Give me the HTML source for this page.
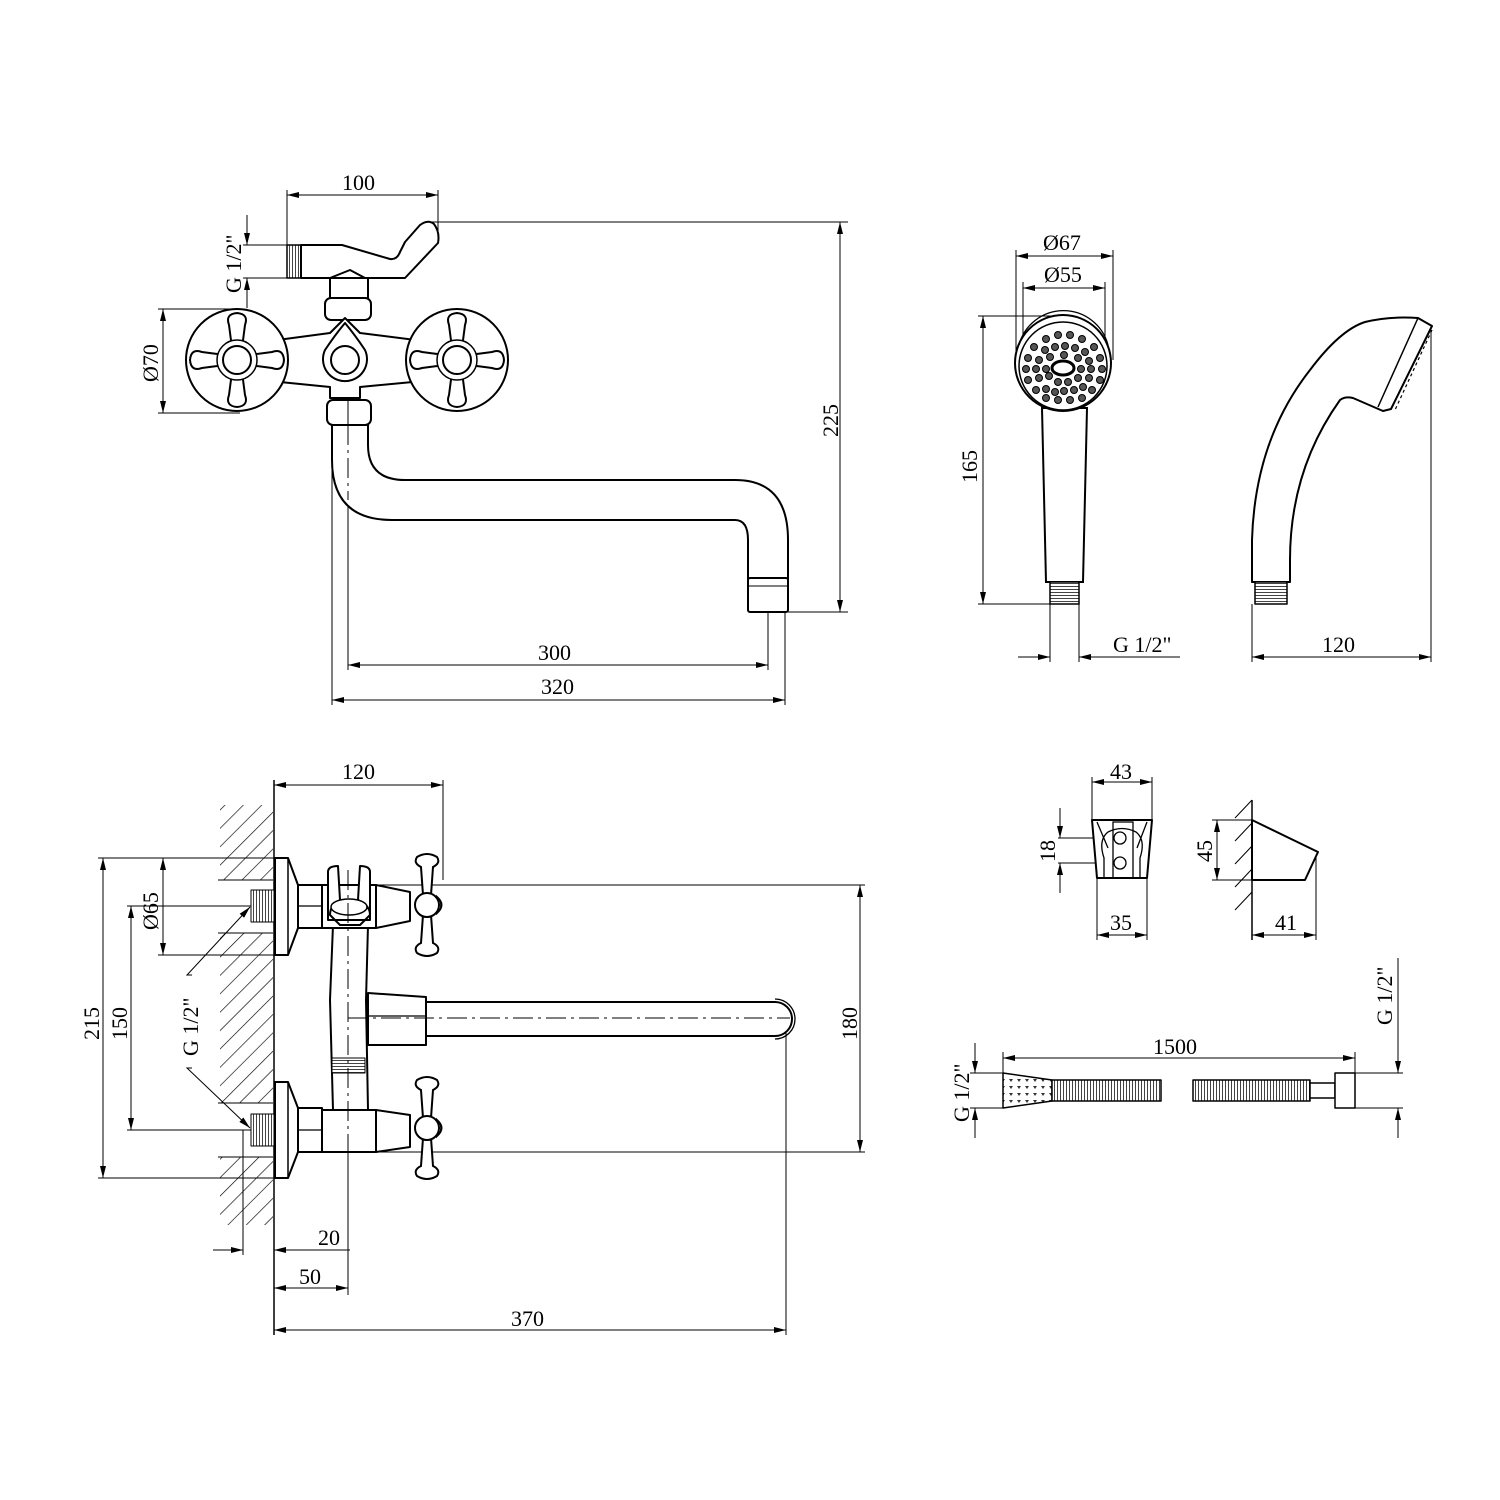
<!DOCTYPE html>
<html><head><meta charset="utf-8"><style>
html,body{margin:0;padding:0;background:#fff}
svg{display:block}
text{font-family:"Liberation Serif",serif;font-size:22px;fill:#000}
</style></head><body>
<svg width="1500" height="1500" viewBox="0 0 1500 1500" xmlns="http://www.w3.org/2000/svg">
<defs>
<marker id="a" viewBox="0 0 12 6" refX="12" refY="3" markerWidth="12" markerHeight="6" orient="auto-start-reverse" markerUnits="userSpaceOnUse"><path d="M0,0 L12,3 L0,6 z" fill="#000"/></marker>
<pattern id="thr" width="3" height="3" patternUnits="userSpaceOnUse"><rect width="3" height="3" fill="#fff"/><line x1="1.5" y1="0" x2="1.5" y2="3" stroke="#444" stroke-width="1"/></pattern>
<pattern id="thh" width="3" height="3" patternUnits="userSpaceOnUse"><rect width="3" height="3" fill="#fff"/><line x1="0" y1="1.5" x2="3" y2="1.5" stroke="#444" stroke-width="1"/></pattern>
<pattern id="hatch" width="13" height="13" patternUnits="userSpaceOnUse" patternTransform="rotate(45)"><line x1="0" y1="0" x2="0" y2="13" stroke="#000" stroke-width="1.3"/></pattern>
<pattern id="dots" width="8" height="7" patternUnits="userSpaceOnUse"><rect width="8" height="7" fill="#fff"/><path d="M1,1 L5,1 L3,4 z" fill="#333"/></pattern>
</defs>

<g fill="none" stroke="#000" stroke-width="1">
<line x1="287" y1="190" x2="287" y2="250"/><line x1="438" y1="190" x2="438" y2="240"/>
<line x1="287" y1="195" x2="438" y2="195" marker-start="url(#a)" marker-end="url(#a)"/>
<line x1="425" y1="222" x2="848" y2="222"/><line x1="788" y1="612" x2="848" y2="612"/>
<line x1="840" y1="222" x2="840" y2="612" marker-start="url(#a)" marker-end="url(#a)"/>
<line x1="243" y1="245" x2="300" y2="245"/><line x1="243" y1="278" x2="300" y2="278"/>
<line x1="247" y1="215" x2="247" y2="245" marker-end="url(#a)"/>
<line x1="247" y1="308" x2="247" y2="278" marker-end="url(#a)"/>
<line x1="158" y1="309" x2="240" y2="309"/><line x1="158" y1="413" x2="240" y2="413"/>
<line x1="163" y1="309" x2="163" y2="413" marker-start="url(#a)" marker-end="url(#a)"/>
<line x1="332" y1="425" x2="332" y2="705"/><line x1="348" y1="500" x2="348" y2="670"/>
<line x1="768" y1="590" x2="768" y2="670"/><line x1="785" y1="612" x2="785" y2="705"/>
<line x1="348" y1="665" x2="768" y2="665" marker-start="url(#a)" marker-end="url(#a)"/>
<line x1="332" y1="700" x2="785" y2="700" marker-start="url(#a)" marker-end="url(#a)"/>
</g>
<text x="342" y="190">100</text>
<text x="838" y="437" transform="rotate(-90 838 437)">225</text>
<text x="241" y="293" transform="rotate(-90 241 293)">G 1/2"</text>
<text x="158" y="382" transform="rotate(-90 158 382)">Ø70</text>
<text x="538" y="660">300</text>
<text x="541" y="694">320</text>

<g fill="#fff" stroke="#000" stroke-width="2" stroke-linejoin="round">
<path d="M332,425 L332,460 Q332,520 392,520 L735,520 Q748,520 748,540 L748,585 L788,585 L788,540 Q788,480 735,480 L405,480 Q368,480 368,445 L368,425 Z"/>
<rect x="748" y="578" width="40" height="34" rx="2"/>
<line x1="748" y1="586" x2="788" y2="586" stroke-width="1"/>
<rect x="287" y="245" width="14" height="33" fill="url(#thr)" stroke-width="1.5"/>
<path d="M301,245 L342,245 L390,259 Q397,260 400,252 L405,242 L420,225 Q428,219 434,224 Q440,232 438,243 L405,278 L365,278 L350,270 L330,278 L301,278 Z"/>
<rect x="330" y="278" width="38" height="22"/>
<rect x="325" y="298" width="46" height="22" rx="6"/>
<path d="M240,345 L330,333 L345,318 L360,333 L455,345 L455,378 L360,387 L360,398 L330,398 L330,387 L240,378 Z"/>
<rect x="327" y="400" width="44" height="25" rx="6"/>
<line x1="348" y1="400" x2="348" y2="425" stroke-width="1"/>
<path d="M345,323 Q335,335 325,350 A22,22 0 1 0 365,350 Q355,335 345,323 Z"/>
<circle cx="345" cy="360" r="14"/>
<circle cx="237" cy="360" r="51"/>
<circle cx="457" cy="360" r="51"/>
</g>
<g fill="#fff" stroke="#000" stroke-width="2">
<g transform="translate(237,360)">
<path d="M-5,-12 L-8,-35 Q-12,-46 0,-47 Q12,-46 8,-35 L5,-12 Z"/>
<path d="M-5,12 L-8,35 Q-12,46 0,47 Q12,46 8,35 L5,12 Z"/>
<path d="M-12,-5 L-35,-8 Q-46,-12 -47,0 Q-46,12 -35,8 L-12,5 Z"/>
<path d="M12,-5 L35,-8 Q46,-12 47,0 Q46,12 35,8 L12,5 Z"/>
<circle r="20" stroke-width="1.5"/><circle r="14"/>
</g>
<g transform="translate(457,360)">
<path d="M-5,-12 L-8,-35 Q-12,-46 0,-47 Q12,-46 8,-35 L5,-12 Z"/>
<path d="M-5,12 L-8,35 Q-12,46 0,47 Q12,46 8,35 L5,12 Z"/>
<path d="M-12,-5 L-35,-8 Q-46,-12 -47,0 Q-46,12 -35,8 L-12,5 Z"/>
<path d="M12,-5 L35,-8 Q46,-12 47,0 Q46,12 35,8 L12,5 Z"/>
<circle r="20" stroke-width="1.5"/><circle r="14"/>
</g>
</g>

<g fill="none" stroke="#000" stroke-width="1">
<line x1="1016" y1="250" x2="1016" y2="360"/><line x1="1113" y1="250" x2="1113" y2="360"/>
<line x1="1023" y1="282" x2="1023" y2="340"/><line x1="1105" y1="282" x2="1105" y2="340"/>
<line x1="1016" y1="256" x2="1113" y2="256" marker-start="url(#a)" marker-end="url(#a)"/>
<line x1="1023" y1="288" x2="1105" y2="288" marker-start="url(#a)" marker-end="url(#a)"/>
<line x1="978" y1="316" x2="1060" y2="316"/><line x1="978" y1="604" x2="1050" y2="604"/>
<line x1="983" y1="316" x2="983" y2="604" marker-start="url(#a)" marker-end="url(#a)"/>
<line x1="1050" y1="604" x2="1050" y2="662"/><line x1="1079" y1="604" x2="1079" y2="662"/>
<line x1="1018" y1="657" x2="1050" y2="657" marker-end="url(#a)"/>
<line x1="1180" y1="657" x2="1079" y2="657" marker-end="url(#a)"/>
<line x1="1252" y1="604" x2="1252" y2="662"/><line x1="1431" y1="330" x2="1431" y2="662"/>
<line x1="1252" y1="657" x2="1431" y2="657" marker-start="url(#a)" marker-end="url(#a)"/>
</g>
<text x="1043" y="250">Ø67</text>
<text x="1044" y="282">Ø55</text>
<text x="977" y="483" transform="rotate(-90 977 483)">165</text>
<text x="1113" y="652">G 1/2"</text>
<text x="1322" y="652">120</text>
<g fill="#fff" stroke="#000" stroke-width="2">
<path d="M1042,408 L1046,582 L1083,582 L1087,408 Z"/>
<rect x="1050" y="582" width="29" height="22" fill="url(#thh)" stroke-width="1.5"/>
<circle cx="1063" cy="363" r="48"/>
<path d="M1019,345 A46,46 0 0 1 1108,345" fill="none" stroke-width="1.3"/>
<circle cx="1063" cy="366" r="44" stroke-width="1.5"/>
<ellipse cx="1063" cy="368" rx="11" ry="7" stroke-width="3"/>
</g>
<g fill="#555" stroke="#000" stroke-width="1">
<circle cx="1058" cy="335" r="3.5"/><circle cx="1070" cy="335" r="3.5"/><circle cx="1046" cy="339" r="3.5"/><circle cx="1082" cy="339" r="3.5"/>
<circle cx="1034" cy="347" r="3.5"/><circle cx="1094" cy="347" r="3.5"/><circle cx="1045" cy="350" r="3.5"/><circle cx="1055" cy="347" r="3.5"/><circle cx="1065" cy="346" r="3.5"/><circle cx="1075" cy="348" r="3.5"/><circle cx="1085" cy="352" r="3.5"/>
<circle cx="1028" cy="358" r="3.5"/><circle cx="1100" cy="358" r="3.5"/><circle cx="1039" cy="360" r="3.5"/><circle cx="1050" cy="357" r="3.5"/><circle cx="1064" cy="355" r="3.5"/><circle cx="1078" cy="358" r="3.5"/><circle cx="1089" cy="361" r="3.5"/>
<circle cx="1026" cy="369" r="3.5"/><circle cx="1036" cy="369" r="3.5"/><circle cx="1046" cy="369" r="3.5"/><circle cx="1081" cy="369" r="3.5"/><circle cx="1091" cy="369" r="3.5"/><circle cx="1102" cy="369" r="3.5"/>
<circle cx="1028" cy="380" r="3.5"/><circle cx="1039" cy="378" r="3.5"/><circle cx="1049" cy="376" r="3.5"/><circle cx="1058" cy="382" r="3.5"/><circle cx="1068" cy="382" r="3.5"/><circle cx="1078" cy="378" r="3.5"/><circle cx="1089" cy="378" r="3.5"/><circle cx="1100" cy="380" r="3.5"/>
<circle cx="1036" cy="390" r="3.5"/><circle cx="1046" cy="389" r="3.5"/><circle cx="1055" cy="392" r="3.5"/><circle cx="1064" cy="391" r="3.5"/><circle cx="1074" cy="390" r="3.5"/><circle cx="1083" cy="387" r="3.5"/><circle cx="1092" cy="390" r="3.5"/>
<circle cx="1046" cy="398" r="3.5"/><circle cx="1058" cy="400" r="3.5"/><circle cx="1070" cy="400" r="3.5"/><circle cx="1082" cy="398" r="3.5"/>
</g>
<g fill="#fff" stroke="#000" stroke-width="2" stroke-linejoin="round">
<path d="M1252,582 L1252,540 Q1255,440 1310,370 Q1340,330 1365,322 Q1390,316 1418,318 L1432,326 L1391,409 L1383,411 L1353,398 Q1345,396 1340,400 Q1290,470 1290,560 L1290,582 Z"/>
<line x1="1418" y1="318" x2="1378" y2="407" stroke-width="1.5"/>
<rect x="1255" y="582" width="32" height="22" fill="url(#thh)" stroke-width="1.5"/>
<path d="M1432,330 L1395,410" stroke-width="1.2" stroke-dasharray="3,3"/>
</g>

<rect x="220" y="805" width="53" height="75" fill="url(#hatch)"/>
<rect x="220" y="933" width="53" height="170" fill="url(#hatch)"/>
<rect x="220" y="1157" width="53" height="68" fill="url(#hatch)"/>
<g fill="none" stroke="#000" stroke-width="1">
<line x1="218" y1="880" x2="273" y2="880"/><line x1="218" y1="933" x2="273" y2="933"/>
<line x1="218" y1="1103" x2="273" y2="1103"/><line x1="218" y1="1157" x2="273" y2="1157"/>
<line x1="274" y1="780" x2="274" y2="1335" stroke-width="1.5"/>
<line x1="443" y1="780" x2="443" y2="880"/>
<line x1="274" y1="785" x2="443" y2="785" marker-start="url(#a)" marker-end="url(#a)"/>
<line x1="98" y1="858" x2="280" y2="858"/><line x1="98" y1="1178" x2="280" y2="1178"/>
<line x1="103" y1="858" x2="103" y2="1178" marker-start="url(#a)" marker-end="url(#a)"/>
<line x1="127" y1="906" x2="280" y2="906"/><line x1="127" y1="1130" x2="280" y2="1130"/>
<line x1="131" y1="906" x2="131" y2="1130" marker-start="url(#a)" marker-end="url(#a)"/>
<line x1="158" y1="955" x2="280" y2="955"/>
<line x1="163" y1="858" x2="163" y2="955" marker-start="url(#a)" marker-end="url(#a)"/>
<polyline points="192,975 187,975 250,907" marker-end="url(#a)"/>
<polyline points="192,1068 187,1068 250,1128" marker-end="url(#a)"/>
<line x1="375" y1="885" x2="865" y2="885"/><line x1="375" y1="1152" x2="865" y2="1152"/>
<line x1="860" y1="885" x2="860" y2="1152" marker-start="url(#a)" marker-end="url(#a)"/>
<line x1="243" y1="1130" x2="243" y2="1255"/>
<line x1="213" y1="1250" x2="243" y2="1250" marker-end="url(#a)"/>
<line x1="350" y1="1250" x2="274" y2="1250" marker-end="url(#a)"/>
<line x1="348" y1="1040" x2="348" y2="1295"/>
<line x1="274" y1="1288" x2="348" y2="1288" marker-start="url(#a)" marker-end="url(#a)"/>
<line x1="786" y1="1020" x2="786" y2="1335"/>
<line x1="274" y1="1330" x2="786" y2="1330" marker-start="url(#a)" marker-end="url(#a)"/>
</g>
<text x="342" y="779">120</text>
<text x="99" y="1040" transform="rotate(-90 99 1040)">215</text>
<text x="127" y="1040" transform="rotate(-90 127 1040)">150</text>
<text x="158" y="930" transform="rotate(-90 158 930)">Ø65</text>
<text x="198" y="1056" transform="rotate(-90 198 1056)">G 1/2"</text>
<text x="857" y="1040" transform="rotate(-90 857 1040)">180</text>
<text x="318" y="1245">20</text>
<text x="299" y="1284">50</text>
<text x="511" y="1326">370</text>

<g fill="#fff" stroke="#000" stroke-width="2" stroke-linejoin="round">
<rect x="251" y="890" width="23" height="32" fill="url(#thr)" stroke-width="1"/>
<rect x="251" y="1114" width="23" height="32" fill="url(#thr)" stroke-width="1"/>
<path d="M275,858 L288,858 L298,885 L298,928 L288,955 L275,955 Z"/>
<line x1="288" y1="858" x2="288" y2="955" stroke-width="1.5"/>
<path d="M275,1082 L288,1082 L298,1108 L298,1152 L288,1178 L275,1178 Z"/>
<line x1="288" y1="1082" x2="288" y2="1178" stroke-width="1.5"/>
<path d="M333,925 L330,1000 L333,1110 L368,1110 L366,1000 L368,925 Z"/>
<rect x="332" y="1058" width="33" height="15" fill="url(#thh)" stroke-width="1"/>
<rect x="298" y="885" width="24" height="43"/><line x1="298" y1="906" x2="322" y2="906" stroke-width="1.3"/>
<rect x="298" y="1108" width="24" height="44"/><line x1="298" y1="1130" x2="322" y2="1130" stroke-width="1.3"/>
<rect x="322" y="885" width="54" height="43"/>
<rect x="322" y="1110" width="54" height="42"/>
<path d="M328,872 Q328,866 338,866 L340,900 Q330,905 330,915 L340,925 L360,925 L370,915 Q370,905 358,900 L360,866 Q370,866 370,872 L370,920 L328,920 Z"/>
<ellipse cx="349" cy="907" rx="18" ry="8" stroke-width="1.5"/>
<path d="M376,885 L410,892 L410,921 L376,928 Z"/>
<path d="M376,1110 L410,1115 L410,1147 L376,1152 Z"/>
<path d="M368,993 L426,997 L426,1045 L368,1045 Z"/>
<line x1="368" y1="1016" x2="426" y2="1016" stroke-width="1.3"/>
<path d="M426,1002 L775,1002 A17,17 0 0 1 775,1036 L426,1036 Z"/>
<path d="M775,999 A19,19 0 0 1 775,1039" fill="none" stroke-width="1.3"/>
</g>
<g fill="#fff" stroke="#000" stroke-width="2">
<g transform="translate(427,905)">
<path d="M-4,-10 L-6,-38 Q-14,-42 -10,-48 Q0,-54 10,-48 Q14,-42 6,-38 L4,-10 Z"/>
<path d="M-4,10 L-6,38 Q-14,42 -10,48 Q0,54 10,48 Q14,42 6,38 L4,10 Z"/>
<path d="M10,-8 Q19,0 10,8 Z" fill="url(#thr)"/>
<circle r="12"/>
</g>
<g transform="translate(427,1128)">
<path d="M-4,-10 L-6,-38 Q-14,-42 -10,-48 Q0,-54 10,-48 Q14,-42 6,-38 L4,-10 Z"/>
<path d="M-4,10 L-6,38 Q-14,42 -10,48 Q0,54 10,48 Q14,42 6,38 L4,10 Z"/>
<path d="M10,-8 Q19,0 10,8 Z" fill="url(#thr)"/>
<circle r="12"/>
</g>
</g>
<g stroke="#000" stroke-width="1" stroke-dasharray="20,5,3,5" fill="none">
<line x1="348" y1="870" x2="348" y2="1160"/>
<line x1="348" y1="1018" x2="790" y2="1018"/>
<line x1="348" y1="425" x2="348" y2="500"/>
</g>

<g fill="none" stroke="#000" stroke-width="1">
<line x1="1092" y1="777" x2="1092" y2="820"/><line x1="1152" y1="777" x2="1152" y2="820"/>
<line x1="1092" y1="782" x2="1152" y2="782" marker-start="url(#a)" marker-end="url(#a)"/>
<line x1="1097" y1="878" x2="1097" y2="940"/><line x1="1147" y1="878" x2="1147" y2="940"/>
<line x1="1097" y1="935" x2="1147" y2="935" marker-start="url(#a)" marker-end="url(#a)"/>
<line x1="1058" y1="838" x2="1120" y2="838"/><line x1="1058" y1="863" x2="1120" y2="863"/>
<line x1="1060" y1="808" x2="1060" y2="838" marker-end="url(#a)"/>
<line x1="1060" y1="893" x2="1060" y2="863" marker-end="url(#a)"/>
<line x1="1212" y1="820" x2="1252" y2="820"/><line x1="1212" y1="880" x2="1252" y2="880"/>
<line x1="1217" y1="820" x2="1217" y2="880" marker-start="url(#a)" marker-end="url(#a)"/>
<line x1="1252" y1="800" x2="1252" y2="940" stroke-width="1.5"/>
<line x1="1316" y1="852" x2="1316" y2="940"/>
<line x1="1252" y1="935" x2="1316" y2="935" marker-start="url(#a)" marker-end="url(#a)"/>
<line x1="1252" y1="800" x2="1235" y2="818"/><line x1="1252" y1="823" x2="1235" y2="841"/>
<line x1="1252" y1="846" x2="1235" y2="864"/><line x1="1252" y1="869" x2="1235" y2="887"/>
<line x1="1252" y1="892" x2="1235" y2="910"/>
</g>
<text x="1110" y="779">43</text>
<text x="1110" y="930">35</text>
<text x="1055" y="862" transform="rotate(-90 1055 862)">18</text>
<text x="1212" y="862" transform="rotate(-90 1212 862)">45</text>
<text x="1275" y="930">41</text>
<g fill="#fff" stroke="#000" stroke-width="2" stroke-linejoin="round">
<path d="M1092,820 L1152,820 L1147,878 L1097,878 Z"/>
<path d="M1252,820 L1318,852 L1305,880 L1252,880 Z"/>
</g>
<g fill="none" stroke="#000" stroke-width="1.3">
<rect x="1113" y="822" width="20" height="56"/>
<path d="M1104,878 L1104,858 Q1098,840 1108,832 Q1122,825 1136,832 Q1146,840 1140,858 L1140,878"/>
<line x1="1097" y1="822" x2="1108" y2="848"/><line x1="1147" y1="822" x2="1137" y2="848"/>
<circle cx="1120" cy="838" r="6"/><circle cx="1120" cy="863" r="6"/>
</g>

<g fill="none" stroke="#000" stroke-width="1">
<line x1="1003" y1="1052" x2="1003" y2="1073"/><line x1="1355" y1="1052" x2="1355" y2="1073"/>
<line x1="1003" y1="1058" x2="1355" y2="1058" marker-start="url(#a)" marker-end="url(#a)"/>
<line x1="970" y1="1073" x2="1003" y2="1073"/><line x1="970" y1="1108" x2="1003" y2="1108"/>
<line x1="975" y1="1043" x2="975" y2="1073" marker-end="url(#a)"/>
<line x1="975" y1="1138" x2="975" y2="1108" marker-end="url(#a)"/>
<line x1="1355" y1="1073" x2="1403" y2="1073"/><line x1="1355" y1="1108" x2="1403" y2="1108"/>
<line x1="1398" y1="958" x2="1398" y2="1073" marker-end="url(#a)"/>
<line x1="1398" y1="1138" x2="1398" y2="1108" marker-end="url(#a)"/>
</g>
<text x="1153" y="1054">1500</text>
<text x="969" y="1122" transform="rotate(-90 969 1122)">G 1/2"</text>
<text x="1392" y="1025" transform="rotate(-90 1392 1025)">G 1/2"</text>
<g stroke="#000" stroke-width="1.5" stroke-linejoin="round">
<path d="M1003,1073 L1052,1080 L1052,1101 L1003,1108 Z" fill="url(#dots)"/>
<rect x="1052" y="1080" width="109" height="21" fill="url(#thr)"/>
<rect x="1193" y="1080" width="117" height="21" fill="url(#thr)"/>
<rect x="1310" y="1083" width="25" height="15" fill="#fff"/>
<rect x="1335" y="1073" width="20" height="35" fill="#fff"/>
</g>
</svg>
</body></html>
